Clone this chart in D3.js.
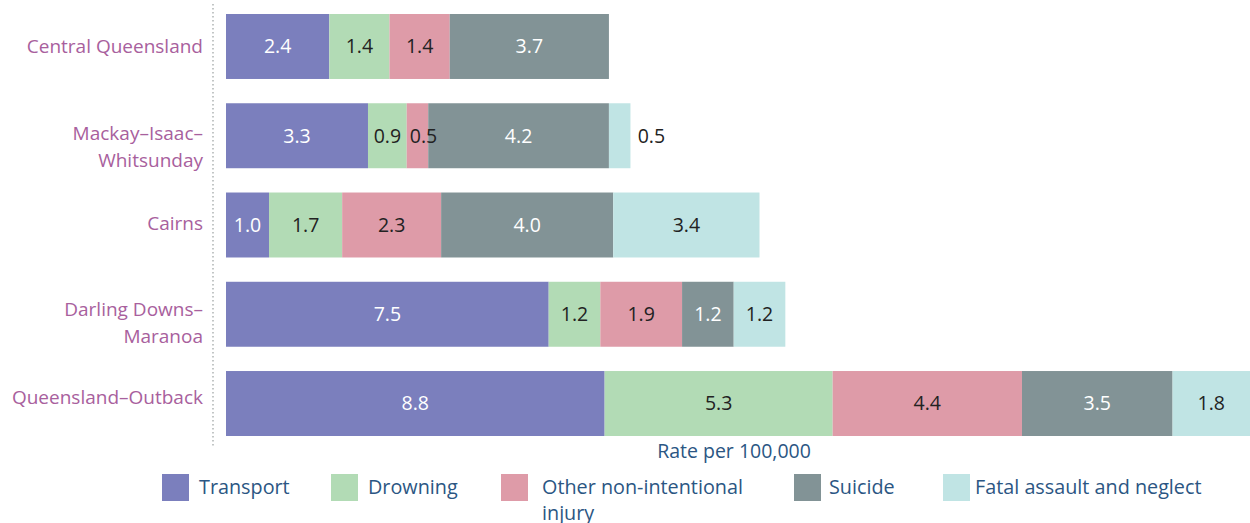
<!DOCTYPE html>
<html><head><meta charset="utf-8">
<script src="https://cdn.jsdelivr.net/npm/d3@7"></script>
<style>
body{margin:0;background:#fff;}
svg{display:block;font-family:"Open Sans","Noto Sans",sans-serif;}
</style></head>
<body><svg id="chart" width="1250" height="523"></svg>
<script>
const regions = ["Central Queensland","Mackay\u2013Isaac\u2013Whitsunday","Cairns","Darling Downs\u2013Maranoa","Queensland\u2013Outback"];
const regionLines = [["Central Queensland"],["Mackay\u2013Isaac\u2013","Whitsunday"],["Cairns"],["Darling Downs\u2013","Maranoa"],["Queensland\u2013Outback"]];
const seriesNames = ["Transport","Drowning","Other non-intentional injury","Suicide","Fatal assault and neglect"];
const transport = [2.4,3.3,1.0,7.5,8.8];
const drowning = [1.4,0.9,1.7,1.2,5.3];
const otherInjury = [1.4,0.5,2.3,1.9,4.4];
const suicide = [3.7,4.2,4.0,1.2,3.5];
const fatalAssault = [0,0.5,3.4,1.2,1.8];
const colors = ["#7b7fbd","#b2dbb5","#de9ba8","#829396","#c0e4e4"];
const labelColors = ["#ffffff","#222222","#222222","#ffffff","#222222"];
const axisTitle = "Rate per 100,000";

const rows = regions.map((r,i)=>({region:r,Transport:transport[i],Drowning:drowning[i],"Other non-intentional injury":otherInjury[i],Suicide:suicide[i],"Fatal assault and neglect":fatalAssault[i]}));
const stack = d3.stack().keys(seriesNames)(rows);
const maxTotal = d3.max(rows, d=>d3.sum(seriesNames, k=>d[k]));

const svg = d3.select("#chart");
const x = d3.scaleLinear().domain([0,maxTotal]).range([226,1250]);
const y = d3.scaleBand().domain(regions).range([14,436]).paddingInner(0.272).paddingOuter(0);

// dotted axis line
svg.append("line").attr("x1",213).attr("x2",213).attr("y1",4).attr("y2",446)
  .attr("stroke","#9aa0a0").attr("stroke-width",1.2).attr("stroke-dasharray","1.5,2.5");

const vfs = 19.5;
const barLayer = svg.append("g");
const labelLayer = svg.append("g");
stack.forEach((s,si)=>{
  const segs = s.filter(d=>d[1]-d[0]>0);
  barLayer.append("g").selectAll("rect").data(segs).join("rect")
    .attr("x",d=>x(d[0])).attr("width",d=>x(d[1])-x(d[0]))
    .attr("y",d=>y(d.data.region)).attr("height",y.bandwidth())
    .attr("fill",colors[si]);
  const w = d => x(d[1])-x(d[0]);
  const outside = d => w(d) < 30 && si===4;
  labelLayer.append("g").selectAll("text").data(segs).join("text")
    .attr("x",d=> outside(d) ? x(d[1])+21 : (x(d[0])+x(d[1]))/2 + (w(d)<30 ? 6 : 0))
    .attr("y",d=>y(d.data.region)+y.bandwidth()/2)
    .attr("dy","0.35em").attr("text-anchor","middle")
    .attr("font-size",vfs)
    .attr("fill",d=> outside(d) ? "#222222" : labelColors[si])
    .text(d=>(d[1]-d[0]).toFixed(1));
});

// region labels
const labelShift = [0,-2,-2,-5,-6];
regions.forEach((r,i)=>{
  const lines = regionLines[i];
  const cy = y(r)+y.bandwidth()/2 + labelShift[i];
  const lh = 27;
  const t = svg.append("text").attr("text-anchor","end").attr("font-size",19).attr("fill","#a8609d");
  lines.forEach((ln,j)=>{
    t.append("tspan").attr("x",203).attr("y",cy + j*lh).attr("dy","0.35em").text(ln);
  });
});

// axis title
svg.append("text").attr("x",734).attr("y",451).attr("dy","0.35em").attr("text-anchor","middle")
  .attr("font-size",19.5).attr("fill","#2b5683").text(axisTitle);

// legend
const legendX = [162,331,501,794,943];
const legendTextX = [199,368,542,829,975];
const legendLines = [["Transport"],["Drowning"],["Other non-intentional","injury"],["Suicide"],["Fatal assault and neglect"]];
seriesNames.forEach((n,i)=>{
  svg.append("rect").attr("x",legendX[i]).attr("y",474).attr("width",27).attr("height",27).attr("fill",colors[i]);
  legendLines[i].forEach((ln,j)=>{
    svg.append("text").attr("font-size",19.8).attr("fill","#2b5683")
      .attr("x",legendTextX[i]).attr("y",487+j*26).attr("dy","0.35em").text(ln);
  });
});
</script></body></html>
